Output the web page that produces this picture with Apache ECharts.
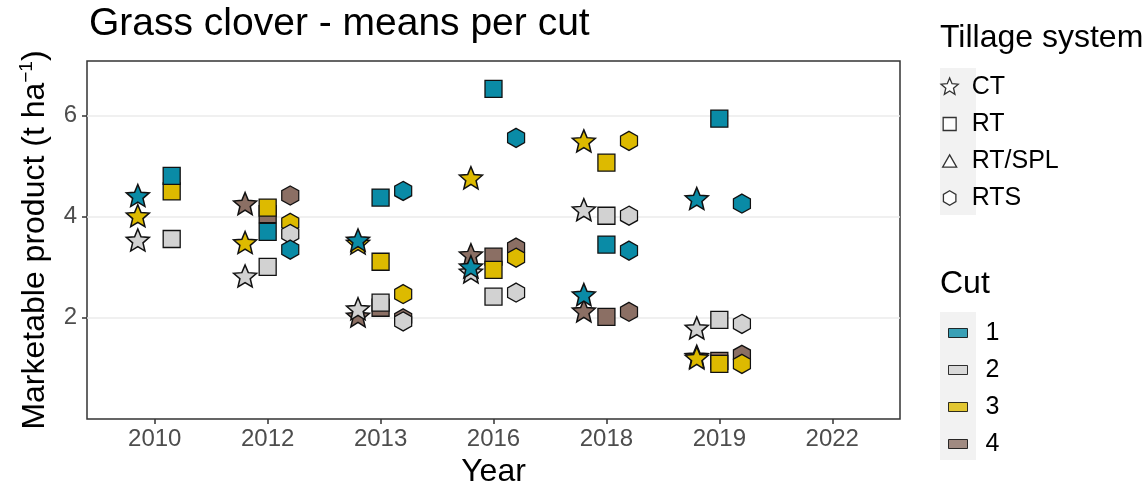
<!DOCTYPE html>
<html>
<head>
<meta charset="utf-8">
<script src="https://cdn.jsdelivr.net/npm/echarts@6/dist/echarts.min.js"></script>
<style>
  html, body { margin: 0; padding: 0; background: #fff; }
  #chart { width: 1147px; height: 484px; }
</style>
</head>
<body>
<div id="chart"></div>
<script>
const years = ['2010', '2012', '2013', '2016', '2018', '2019', '2022'];
const tillages = ['CT', 'RT', 'RT/SPL', 'RTS'];
const cuts = ['1', '2', '3', '4'];
const yTicks = [2, 4, 6];

// means per cut (t/ha), one value per year, null = not measured
const ctCut1 = [4.42, null, 3.54, 3.01, 2.46, 4.36, null];
const ctCut2 = [3.54, 2.83, 2.18, 2.91, 4.14, 1.80, null];
const ctCut3 = [4.02, 3.49, 3.48, 4.77, 5.50, 1.21, null];
const ctCut4 = [null, 4.26, 2.04, 3.25, 2.14, 1.24, null];

const rtCut1 = [4.81, 3.70, 4.38, 6.53, 3.45, 5.94, null];
const rtCut2 = [3.56, 3.01, 2.30, 2.42, 4.02, 1.96, null];
const rtCut3 = [4.50, 4.18, 3.11, 2.95, 5.07, 1.09, null];
const rtCut4 = [null, 4.05, 2.20, 3.21, 2.02, 1.15, null];

const rtsplCut1 = [null, null, null, null, null, null, null];
const rtsplCut2 = [null, null, null, null, null, null, null];
const rtsplCut3 = [null, null, null, null, null, null, null];
const rtsplCut4 = [null, null, null, null, null, null, null];

const rtsCut1 = [null, 3.35, 4.51, 5.56, 3.33, 4.26, null];
const rtsCut2 = [null, 3.66, 1.93, 2.50, 4.02, 1.88, null];
const rtsCut3 = [null, 3.88, 2.47, 3.19, 5.50, 1.09, null];
const rtsCut4 = [null, 4.42, 1.99, 3.39, 2.12, 1.27, null];

const means = {
  'CT': [ctCut1, ctCut2, ctCut3, ctCut4],
  'RT': [rtCut1, rtCut2, rtCut3, rtCut4],
  'RT/SPL': [rtsplCut1, rtsplCut2, rtsplCut3, rtsplCut4],
  'RTS': [rtsCut1, rtsCut2, rtsCut3, rtsCut4],
};

const cutColors = ['#0A8BA6', '#D2D2D2', '#DDBA00', '#8B6F64'];
const font = '"Liberation Sans", Arial, sans-serif';
const dodgeWidth = 0.6;

// symbol paths
function starPts(r) {
  const pts = [];
  for (let k = 0; k < 10; k++) {
    const rr = k % 2 ? r * 0.45 : r;
    const a = Math.PI / 5 * k - Math.PI / 2;
    pts.push([50 + rr * Math.cos(a), 50 + rr * Math.sin(a)]);
  }
  return pts;
}
function hexPts(r) {
  const pts = [];
  for (let k = 0; k < 6; k++) {
    const a = Math.PI / 3 * k - Math.PI / 2;
    pts.push([50 + r * Math.cos(a), 50 + r * Math.sin(a)]);
  }
  return pts;
}
function toPath(pts) {
  return 'M' + pts.map(p => p[0].toFixed(2) + ' ' + p[1].toFixed(2)).join(' L') + ' Z';
}
const markerSymbol = {
  'CT': 'path://' + toPath(starPts(50)),
  'RT': 'rect',
  'RT/SPL': 'triangle',
  'RTS': 'path://' + toPath(hexPts(50)),
};
const markerSize = {
  'CT': [23, 22],
  'RT': [17, 17],
  'RT/SPL': [17, 15],
  'RTS': [17, 19],
};
// legend keys, padded inside a 100x100 box
const pad = 'M0 0 M100 100 ';
const legendIcon = {
  'CT': 'path://' + pad + toPath(starPts(50)),
  'RT': 'path://' + pad + 'M14 14 L86 14 L86 86 L14 86 Z',
  'RT/SPL': 'path://' + pad + 'M50 16 L89 84 L11 84 Z',
  'RTS': 'path://' + pad + toPath(hexPts(40)),
};

// which tillage systems have values in a year -> dodge offset
function dodgeOffset(t, i) {
  const present = tillages.filter(tt => means[tt].some(arr => arr[i] != null));
  const n = present.length;
  const k = present.indexOf(t);
  return (k - (n - 1) / 2) * dodgeWidth / n;
}

const series = [];
// cut 4 drawn first, cut 1 on top
for (let c = cuts.length - 1; c >= 0; c--) {
  for (const t of tillages) {
    const data = [];
    means[t][c].forEach((v, i) => {
      if (v != null) data.push([i + dodgeOffset(t, i), v]);
    });
    if (!data.length) continue;
    series.push({
      name: t + ' / ' + cuts[c],
      type: 'scatter',
      symbol: markerSymbol[t],
      symbolSize: markerSize[t],
      symbolKeepAspect: false,
      data: data,
      itemStyle: {
        color: cutColors[c],
        borderColor: '#111',
        borderWidth: t === 'CT' ? 1.5 : 1.3,
        opacity: 1,
      },
      emphasis: { disabled: true },
    });
  }
}
// legend-only series
tillages.forEach(t => {
  series.push({
    name: t, type: 'scatter', data: [],
    itemStyle: { color: '#fff', borderColor: '#000', borderWidth: 1.3 },
  });
});
cuts.forEach((c, i) => {
  series.push({
    name: c, type: 'scatter', data: [],
    itemStyle: { color: cutColors[i], borderColor: '#000', borderWidth: 1 },
  });
});

const chart = echarts.init(document.getElementById('chart'));

const option = {
  backgroundColor: '#fff',
  animation: false,
  textStyle: { fontFamily: font },
  title: [
    {
      text: 'Grass clover - means per cut',
      left: 89, top: 5, padding: 0,
      textStyle: { fontFamily: font, fontSize: 39, fontWeight: 'normal', color: '#000' },
    },
    {
      text: 'Tillage system',
      left: 940, top: 22, padding: 0,
      textStyle: { fontFamily: font, fontSize: 32, fontWeight: 'normal', color: '#000' },
    },
    {
      text: 'Cut',
      left: 940, top: 268, padding: 0,
      textStyle: { fontFamily: font, fontSize: 32, fontWeight: 'normal', color: '#000' },
    },
  ],
  graphic: [
    { type: 'rect', shape: { x: 940, y: 68, width: 36, height: 147 }, style: { fill: '#F2F2F2' }, silent: true },
    { type: 'rect', shape: { x: 940, y: 312, width: 36, height: 148 }, style: { fill: '#F2F2F2' }, silent: true },
  ],
  legend: [
    {
      orient: 'vertical',
      left: 940, top: 72, padding: 0,
      itemWidth: 34, itemHeight: 18, itemGap: 7,
      data: tillages.map(t => ({
        name: t,
        icon: legendIcon[t],
        itemStyle: { color: '#fff', borderColor: '#000', borderWidth: 1.3 },
      })),
      textStyle: { fontFamily: font, fontSize: 25, color: '#000', lineHeight: 30 },
      selectedMode: false,
    },
    {
      orient: 'vertical',
      left: 948, top: 318, padding: 0,
      itemWidth: 19, itemHeight: 9, itemGap: 7,
      data: cuts.map((c, i) => ({
        name: c,
        icon: 'rect',
        itemStyle: { color: cutColors[i], borderColor: '#000', borderWidth: 1 },
      })),
      textStyle: { fontFamily: font, fontSize: 25, color: '#000', lineHeight: 30, padding: [0, 0, 0, 13] },
      selectedMode: false,
    },
  ],
  grid: {
    left: 87, right: 247, top: 61, bottom: 65,
    outerBoundsMode: 'none',
    containLabel: false,
    show: true, borderColor: '#333', borderWidth: 1.5, backgroundColor: '#fff',
    z: 0,
  },
  xAxis: {
    type: 'value',
    min: -0.6, max: 6.6,
    name: 'Year',
    nameLocation: 'middle',
    nameGap: 33,
    nameTextStyle: { fontFamily: font, fontSize: 32, color: '#000' },
    axisLine: { show: false, onZero: false },
    axisTick: {
      show: true, length: 5, customValues: years.map((y, i) => i),
      lineStyle: { color: '#333', width: 1.5 },
    },
    axisLabel: {
      customValues: years.map((y, i) => i),
      formatter: v => years[Math.round(v)],
      fontFamily: font, fontSize: 24, color: '#4D4D4D', margin: 8,
    },
    splitLine: { show: false },
  },
  yAxis: {
    type: 'value',
    min: 0, max: 7.08, interval: 2,
    name: '{a|Marketable product (t ha}{b|−1}{a|)}',
    nameLocation: 'middle',
    nameRotate: 90,
    nameGap: 34,
    nameTextStyle: {
      fontFamily: font, color: '#000',
      rich: {
        a: { fontFamily: font, fontSize: 32, color: '#000', lineHeight: 36 },
        b: { fontFamily: font, fontSize: 19, color: '#000', verticalAlign: 'top', lineHeight: 36 },
      },
    },
    axisLine: { show: false, onZero: false },
    axisTick: {
      show: true, length: 5, customValues: yTicks,
      lineStyle: { color: '#333', width: 1.5 },
    },
    axisLabel: {
      customValues: yTicks,
      fontFamily: font, fontSize: 24, color: '#4D4D4D', margin: 10,
    },
    splitLine: { show: true, lineStyle: { color: '#EBEBEB', width: 1.5 } },
  },
  series: series,
};

chart.setOption(option);

window.addEventListener('resize', () => {
  chart.resize();
});
</script>
</body>
</html>
